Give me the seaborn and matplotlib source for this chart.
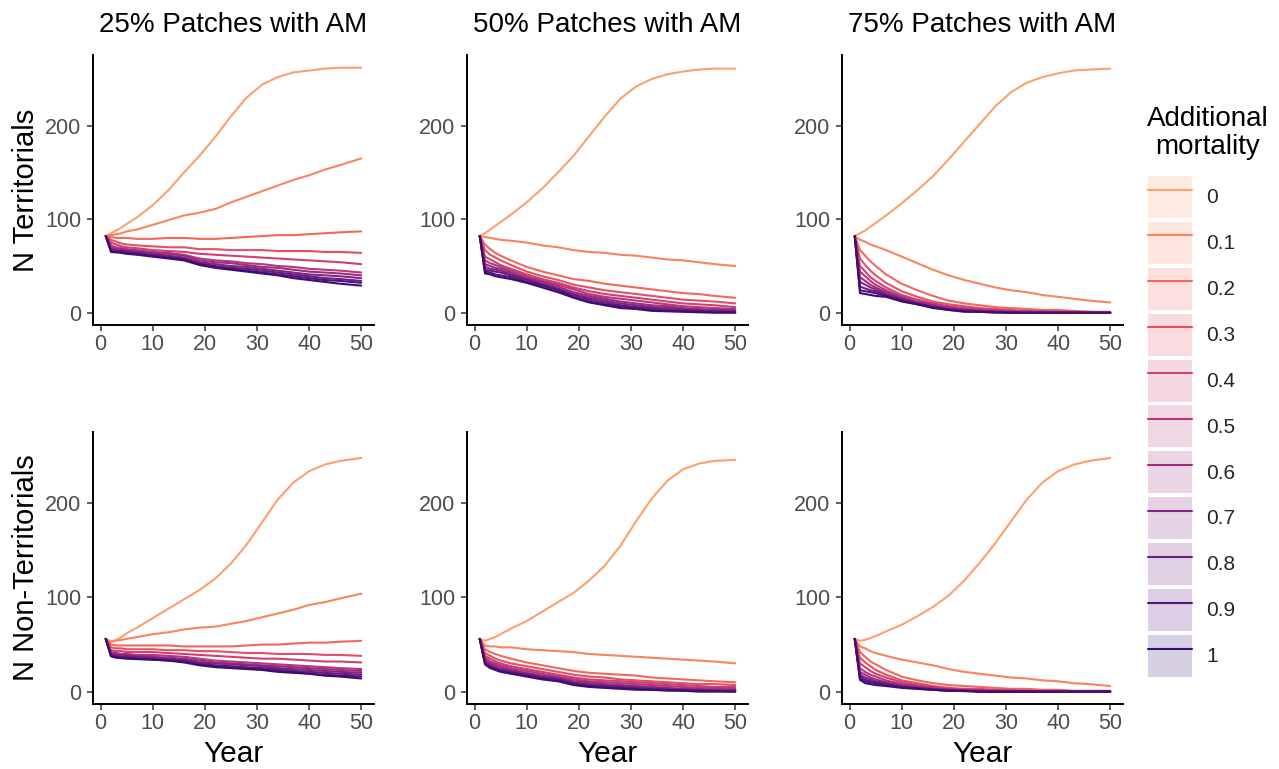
import matplotlib
matplotlib.use("Agg")
import matplotlib.pyplot as plt
from matplotlib.patches import Patch
from matplotlib.lines import Line2D
import pandas as pd
import seaborn as sns

# ---- data -----------------------------------------------------------------
years = [1, 2, 3, 4, 5, 7, 10, 13, 16, 19, 22, 25, 28, 31, 34, 37, 40, 43, 46, 50]
mortality = ["0", "0.1", "0.2", "0.3", "0.4", "0.5", "0.6", "0.7", "0.8", "0.9", "1"]
patch_levels = ["25% Patches with AM", "50% Patches with AM", "75% Patches with AM"]
stages = ["N Territorials", "N Non-Territorials"]

# Territorials, one row per mortality level (0 ... 1)
terr_25 = [
    [82, 85, 88, 91, 95, 102, 115, 131, 150, 168, 188, 210, 230, 244, 252, 257, 259, 261, 262, 262],
    [82, 83, 84, 85, 87, 89, 94, 99, 104, 107, 111, 118, 124, 130, 136, 142, 147, 153, 158, 165],
    [82, 81, 80, 80, 80, 79, 79, 80, 80, 79, 79, 80, 81, 82, 83, 83, 84, 85, 86, 87],
    [82, 78, 76, 74, 73, 72, 71, 70, 70, 68, 68, 67, 67, 67, 66, 66, 66, 65, 65, 64],
    [82, 75, 73, 71, 70, 69, 67, 66, 65, 63, 62, 61, 60, 59, 58, 57, 56, 55, 54, 52],
    [82, 72, 70, 69, 68, 67, 65, 64, 62, 58, 56, 55, 53, 52, 50, 49, 47, 46, 45, 43],
    [82, 70, 68, 68, 67, 66, 64, 63, 61, 56, 54, 53, 51, 49, 48, 46, 44, 43, 42, 40],
    [82, 68, 67, 67, 66, 65, 63, 61, 59, 54, 52, 50, 49, 47, 45, 43, 41, 40, 39, 37],
    [82, 67, 66, 66, 65, 64, 62, 60, 58, 53, 50, 48, 47, 45, 43, 41, 39, 37, 36, 34],
    [82, 66, 65, 65, 64, 63, 61, 59, 57, 52, 49, 47, 45, 43, 41, 39, 37, 35, 34, 32],
    [82, 65, 64.5, 64, 63, 62, 60, 58, 56, 51, 48, 46, 44, 42, 40, 37, 35, 33, 31, 29],
]
terr_50 = [
    [82, 85, 89, 93, 97, 105, 118, 133, 150, 168, 189, 210, 229, 242, 250, 255, 258, 260, 261, 261],
    [82, 81, 80, 79, 78, 77, 75, 72, 70, 67, 65, 64, 62, 61, 59, 57, 56, 54, 52, 50],
    [82, 73, 68, 64, 61, 56, 49, 44, 40, 36, 34, 31, 29, 27, 25, 23, 21, 20, 18, 16],
    [82, 67, 62, 59, 56, 51, 44, 39, 35, 30, 27, 24, 22, 20, 18, 16, 14, 13, 12, 10],
    [82, 60, 57, 54, 51, 47, 41, 36, 32, 27, 23, 20, 18, 16, 14, 12, 10, 9, 8, 6],
    [82, 56, 53, 51, 49, 45, 39, 34, 30, 25, 20, 17, 15, 13, 11, 9, 7, 6, 5, 4],
    [82, 52, 50, 48, 47, 43, 37, 33, 28, 22, 18, 15, 12, 10, 8, 7, 5, 4, 3, 3],
    [82, 49, 47, 46, 45, 41, 36, 31, 26, 20, 16, 13, 10, 8, 6, 5, 4, 3, 2, 2],
    [82, 46, 45, 44, 43, 40, 35, 30, 25, 19, 14, 11, 8, 6, 5, 3, 3, 2, 1, 1],
    [82, 44, 43, 41, 40, 38, 33, 29, 24, 17, 12, 9, 7, 5, 3, 2, 2, 1, 1, 0.5],
    [82, 42, 41, 39, 38, 36, 32, 27, 22, 16, 11, 8, 5, 4, 2, 1.5, 1, 0.5, 0, 0],
]
terr_75 = [
    [82, 85, 88, 92, 96, 104, 117, 131, 146, 164, 183, 202, 221, 236, 246, 252, 256, 259, 260, 261],
    [82, 78, 76, 73, 71, 67, 60, 53, 46, 40, 35, 31, 27, 24, 22, 19, 17, 15, 13, 11],
    [82, 67, 61, 55, 50, 41, 31, 24, 18, 13, 10, 8, 6, 5, 4, 3, 3, 2, 1, 1],
    [82, 58, 51, 45, 40, 32, 23, 17, 12, 9, 7, 5, 4, 3, 2, 2, 1, 1, 1, 0],
    [82, 50, 44, 38, 34, 27, 19, 14, 10, 7, 5, 4, 3, 2, 1, 1, 1, 0, 0, 0],
    [82, 44, 39, 34, 30, 24, 17, 12, 9, 6, 4, 3, 2, 1, 1, 1, 0, 0, 0, 0],
    [82, 38, 34, 30, 27, 22, 16, 11, 8, 5, 3, 2, 1, 1, 1, 0, 0, 0, 0, 0],
    [82, 33, 30, 27, 25, 20, 15, 10, 7, 4, 3, 2, 1, 1, 0, 0, 0, 0, 0, 0],
    [82, 28, 26, 24, 23, 19, 14, 10, 6, 4, 2, 1, 1, 0, 0, 0, 0, 0, 0, 0],
    [82, 24, 23, 22, 21, 18, 13, 9, 6, 3, 2, 1, 1, 0, 0, 0, 0, 0, 0, 0],
    [82, 21, 20, 19, 18, 17, 12, 9, 5, 3, 1, 1, 0, 0, 0, 0, 0, 0, 0, 0],
]

# Non-territorials, one row per mortality level (0 ... 1)
nonterr_25 = [
    [56, 53, 55, 58, 62, 68, 78, 88, 98, 108, 120, 136, 156, 180, 204, 222, 234, 241, 245, 248],
    [56, 53, 54, 55, 56, 58, 61, 63, 66, 68, 69, 72, 75, 79, 83, 87, 92, 95, 99, 104],
    [56, 50, 49, 49, 49, 49, 49, 49, 48, 48, 48, 48, 49, 50, 50, 51, 52, 52, 53, 54],
    [56, 47, 46, 46, 45, 45, 45, 44, 44, 43, 43, 42, 41, 41, 40, 40, 40, 39, 39, 38],
    [56, 44, 43, 43, 42, 42, 42, 41, 40, 39, 38, 37, 36, 35, 35, 34, 33, 32, 32, 31],
    [56, 42, 41, 40, 40, 39, 39, 38, 37, 35, 33, 32, 31, 30, 29, 28, 27, 26, 25, 24],
    [56, 41, 40, 39, 39, 38, 37, 36, 35, 33, 31, 30, 29, 28, 27, 26, 25, 24, 23, 22],
    [56, 40, 39, 38, 38, 37, 36, 35, 34, 31, 30, 29, 28, 27, 25, 24, 23, 22, 21, 20],
    [56, 39, 38, 37, 37, 36, 35, 34, 33, 30, 28, 27, 26, 25, 24, 22, 21, 20, 19, 18],
    [56, 38, 37, 36, 36, 35, 34, 33, 32, 29, 27, 26, 25, 24, 22, 21, 19, 18, 17, 16],
    [56, 37.5, 36, 35.5, 35, 34.5, 34, 33, 31, 28, 26, 25, 24, 23, 21, 20, 19, 17, 16, 14],
]
nonterr_50 = [
    [56, 54, 56, 58, 61, 67, 75, 85, 95, 105, 118, 134, 155, 181, 205, 224, 236, 242, 245, 246],
    [56, 49, 48, 48, 47, 47, 45, 44, 43, 42, 40, 39, 38, 37, 36, 35, 34, 33, 32, 30],
    [56, 45, 42, 40, 38, 35, 31, 28, 25, 22, 20, 19, 18, 17, 15, 14, 13, 12, 11, 10],
    [56, 41, 38, 35, 33, 30, 27, 24, 21, 18, 16, 15, 13, 12, 11, 10, 9, 8, 8, 7],
    [56, 38, 35, 32, 30, 27, 24, 21, 18, 15, 13, 12, 11, 10, 9, 8, 7, 6, 5, 5],
    [56, 36, 32, 30, 28, 25, 22, 19, 16, 13, 11, 10, 9, 8, 7, 6, 5, 4, 4, 3],
    [56, 34, 30, 28, 26, 23, 20, 17, 15, 11, 10, 8, 7, 6, 5, 4, 3, 3, 2, 2],
    [56, 32, 28, 26, 24, 22, 19, 16, 14, 10, 8, 7, 6, 5, 4, 3, 2, 2, 1, 1],
    [56, 31, 27, 25, 23, 21, 18, 15, 13, 9, 7, 6, 5, 4, 3, 2, 2, 1, 1, 1],
    [56, 30, 26, 24, 22, 20, 17, 14, 12, 8, 6, 5, 4, 3, 2, 2, 1, 1, 1, 0],
    [56, 29, 25, 23, 21, 19, 16, 13, 11, 7, 5, 4, 3, 2, 2, 1, 1, 0, 0, 0],
]
nonterr_75 = [
    [56, 54, 55, 57, 59, 64, 71, 80, 90, 102, 118, 137, 158, 181, 204, 222, 234, 241, 245, 248],
    [56, 48, 46, 43, 41, 38, 34, 31, 28, 24, 21, 19, 17, 15, 14, 12, 11, 9, 8, 6],
    [56, 42, 37, 32, 29, 23, 16, 12, 9, 7, 6, 5, 4, 3, 3, 2, 2, 1, 1, 1],
    [56, 36, 31, 27, 23, 18, 12, 9, 6, 4, 3, 3, 2, 2, 1, 1, 1, 0, 0, 0],
    [56, 30, 26, 22, 19, 15, 10, 7, 5, 3, 2, 2, 1, 1, 1, 0, 0, 0, 0, 0],
    [56, 25, 21, 18, 16, 12, 8, 6, 4, 2, 2, 1, 1, 1, 0, 0, 0, 0, 0, 0],
    [56, 21, 18, 15, 13, 10, 7, 5, 3, 2, 1, 1, 1, 0, 0, 0, 0, 0, 0, 0],
    [56, 18, 15, 13, 11, 9, 6, 4, 3, 2, 1, 1, 0, 0, 0, 0, 0, 0, 0, 0],
    [56, 16, 13, 11, 10, 8, 5, 4, 2, 1, 1, 0, 0, 0, 0, 0, 0, 0, 0, 0],
    [56, 14, 11, 10, 9, 7, 5, 3, 2, 1, 1, 0, 0, 0, 0, 0, 0, 0, 0, 0],
    [56, 12.5, 9, 8, 7, 6, 4, 3, 2, 1, 0.5, 0, 0, 0, 0, 0, 0, 0, 0, 0],
]

panel_data = {
    ("N Territorials", "25% Patches with AM"): terr_25,
    ("N Territorials", "50% Patches with AM"): terr_50,
    ("N Territorials", "75% Patches with AM"): terr_75,
    ("N Non-Territorials", "25% Patches with AM"): nonterr_25,
    ("N Non-Territorials", "50% Patches with AM"): nonterr_50,
    ("N Non-Territorials", "75% Patches with AM"): nonterr_75,
}

rows = []
for (stage, patches), series in panel_data.items():
    for level, values in zip(mortality, series):
        for yr, v in zip(years, values):
            rows.append({"Stage": stage, "Patches": patches,
                         "Mortality": level, "Year": yr, "N": v})
df = pd.DataFrame(rows)

# ---- styling --------------------------------------------------------------
sns.set_theme(style="ticks")
plt.rcParams["font.family"] = ["Liberation Sans", "DejaVu Sans"]

cmap = sns.color_palette("magma", as_cmap=True)
colors = [cmap(0.8 - 0.06 * i) for i in range(len(mortality))]
palette = dict(zip(mortality, colors))

W, H = 1279, 769
fig = plt.figure(figsize=(W / 100, H / 100), dpi=100)

col_left = [93, 467, 842]
panel_w = 281
row_top = [55, 432]
row_h = [270, 272]

for r, stage in enumerate(stages):
    for c, patches in enumerate(patch_levels):
        rect = [col_left[c] / W, 1 - (row_top[r] + row_h[r]) / H,
                panel_w / W, row_h[r] / H]
        ax = fig.add_axes(rect)
        sub = df[(df["Stage"] == stage) & (df["Patches"] == patches)]
        sns.lineplot(data=sub, x="Year", y="N", hue="Mortality",
                     hue_order=mortality, palette=palette, linewidth=1.5,
                     errorbar=None, legend=False, ax=ax)
        ax.set_xlim(-1.45, 52.45)
        ax.set_ylim(-13.1, 275.6)
        ax.set_xticks([0, 10, 20, 30, 40, 50])
        ax.set_yticks([0, 100, 200])
        ax.set_xlabel("")
        ax.set_ylabel("")
        for side in ("top", "right"):
            ax.spines[side].set_visible(False)
        for side in ("left", "bottom"):
            ax.spines[side].set_linewidth(1.4)
            ax.spines[side].set_color("black")
        ax.tick_params(axis="both", length=4.2, width=1.1, color="#333333",
                       labelsize=15.5, labelcolor="#4D4D4D")
        ax.tick_params(axis="x", pad=2.5)
        ax.tick_params(axis="y", pad=4)

        cx = (col_left[c] + panel_w / 2) / W
        if r == 0:
            fig.text(cx, 1 - 25 / H, patches, ha="center", va="center",
                     fontsize=20, color="black")
        else:
            fig.text(cx, 1 - 754 / H, "Year", ha="center", va="center",
                     fontsize=21.5, color="black")
        if c == 0:
            cy = 1 - (row_top[r] + row_h[r] / 2) / H
            fig.text(26 / W, cy, stage, rotation=90, ha="center",
                     va="center", fontsize=21, color="black")

# legend: translucent key background with the line drawn on top
handles = [(Patch(facecolor=palette[m], alpha=0.2, edgecolor="none"),
            Line2D([], [], color=palette[m], linewidth=1.5))
           for m in mortality]
fig.legend(handles, mortality, loc="upper left",
           bbox_to_anchor=(1148 / W, 1 - 176 / H),
           frameon=False, fontsize=15, handlelength=2.1, handleheight=2.72,
           handletextpad=0.7, labelspacing=0.19, borderpad=0,
           borderaxespad=0)
fig.text(1208 / W, 1 - 133 / H, "Additional\nmortality", ha="center",
         va="center", fontsize=20, linespacing=1.05, color="black")

fig.savefig("out.png", dpi=100)
